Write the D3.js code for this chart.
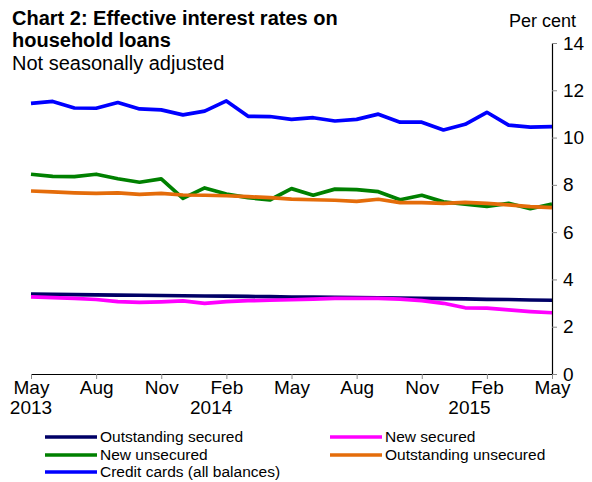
<!DOCTYPE html>
<html>
<head>
<meta charset="utf-8">
<script src="https://cdn.jsdelivr.net/npm/d3@7"></script>
<style>
  body { margin: 0; padding: 0; background: #fff; }
  svg text { font-family: "Liberation Sans", Arial, sans-serif; fill: #000; }
</style>
</head>
<body>
<div id="main"></div>
<script>
// month index 0 = May 2013 ... 24 = May 2015
const months = d3.range(25);
const tickMonths = [0, 3, 6, 9, 12, 15, 18, 21, 24];
const tickLabels = ['May', 'Aug', 'Nov', 'Feb', 'May', 'Aug', 'Nov', 'Feb', 'May'];
const yearLabels = [['2013', 0], ['2014', 8.3], ['2015', 20.2]];
const yTicks = [0, 2, 4, 6, 8, 10, 12, 14];

const outstandingSecured = [3.38, 3.37, 3.36, 3.35, 3.34, 3.33, 3.32, 3.31, 3.30, 3.29, 3.28, 3.27, 3.25,
    3.25, 3.24, 3.23, 3.22, 3.21, 3.20, 3.19, 3.18, 3.16, 3.15, 3.13, 3.12];
const newSecured = [3.26, 3.23, 3.20, 3.15, 3.06, 3.03, 3.05, 3.09, 2.99, 3.06, 3.10, 3.12, 3.14,
    3.17, 3.20, 3.20, 3.20, 3.17, 3.10, 2.99, 2.80, 2.79, 2.71, 2.64, 2.59];
const newUnsecured = [8.45, 8.36, 8.35, 8.45, 8.26, 8.11, 8.25, 7.43, 7.87, 7.61, 7.46, 7.36, 7.84,
    7.56, 7.82, 7.80, 7.71, 7.37, 7.56, 7.28, 7.18, 7.09, 7.22, 6.99, 7.19];
const outstandingUnsecured = [7.74, 7.70, 7.66, 7.64, 7.66, 7.60, 7.64, 7.57, 7.56, 7.54, 7.50, 7.46, 7.40,
    7.37, 7.35, 7.30, 7.39, 7.25, 7.25, 7.22, 7.26, 7.22, 7.15, 7.08, 7.04];
const creditCards = [11.45, 11.53, 11.25, 11.24, 11.48, 11.21, 11.17, 10.96, 11.12, 11.55, 10.90, 10.89, 10.77,
    10.84, 10.70, 10.77, 10.99, 10.65, 10.65, 10.32, 10.56, 11.07, 10.53, 10.44, 10.46];

const series = [
    { name: 'Outstanding secured', values: outstandingSecured, color: '#000066' },
    { name: 'New secured', values: newSecured, color: '#ff00ff' },
    { name: 'New unsecured', values: newUnsecured, color: '#008000' },
    { name: 'Outstanding unsecured', values: outstandingUnsecured, color: '#e46c0a' },
    { name: 'Credit cards (all balances)', values: creditCards, color: '#0000ff' }
];

const WIDTH = 592, HEIGHT = 482;
const LEFT = 31, RIGHT = 552, TOP = 43, BOTTOM = 374;

const svg = d3.select('#main').append('svg')
    .attr('width', WIDTH)
    .attr('height', HEIGHT);

const x = d3.scaleLinear().domain([0, 24]).range([LEFT, RIGHT]);
const y = d3.scaleLinear().domain([0, 14]).range([BOTTOM, TOP]);

// titles
svg.append('text').attr('x', 12).attr('y', 25)
    .style('font-size', '20px').style('font-weight', 'bold')
    .text('Chart 2: Effective interest rates on');
svg.append('text').attr('x', 12).attr('y', 47)
    .style('font-size', '20px').style('font-weight', 'bold')
    .text('household loans');
svg.append('text').attr('x', 12).attr('y', 70)
    .style('font-size', '20px')
    .text('Not seasonally adjusted');
svg.append('text').attr('x', 576).attr('y', 27)
    .attr('text-anchor', 'end')
    .style('font-size', '18px')
    .text('Per cent');

// lines
const line = d3.line()
    .x((d, i) => x(months[i]))
    .y(d => y(d));

svg.append('g').selectAll('path').data(series).enter().append('path')
    .attr('d', d => line(d.values))
    .attr('fill', 'none')
    .attr('stroke', d => d.color)
    .attr('stroke-width', 3.7)
    .attr('stroke-linejoin', 'round');

// axes
const axisX = d3.axisBottom(x)
    .tickValues(tickMonths)
    .tickFormat((d, i) => tickLabels[i])
    .tickSize(5)
    .tickSizeOuter(0)
    .tickPadding(2);
const gx = svg.append('g')
    .attr('transform', `translate(0, ${BOTTOM})`)
    .call(axisX);
gx.select('.domain').attr('stroke', '#000').attr('stroke-width', 1.2);
gx.selectAll('.tick line').attr('stroke', '#888');
gx.selectAll('.tick text').style('font-size', '19px').attr('font-family', null);

const axisY = d3.axisRight(y)
    .tickValues(yTicks)
    .tickSize(5)
    .tickSizeOuter(0)
    .tickPadding(6);
const gy = svg.append('g')
    .attr('transform', `translate(${RIGHT}, 0)`)
    .call(axisY);
gy.select('.domain').attr('stroke', '#000').attr('stroke-width', 1.2);
gy.selectAll('.tick line').attr('stroke', '#888');
gy.selectAll('.tick text').style('font-size', '19px').attr('font-family', null);

svg.append('g').selectAll('text').data(yearLabels).enter().append('text')
    .attr('x', d => x(d[1]))
    .attr('y', 414)
    .attr('text-anchor', 'middle')
    .style('font-size', '19px')
    .text(d => d[0]);

// legend
const legendPos = [[45, 437], [330, 437], [45, 455], [330, 455], [45, 472]];
const legendOrder = [0, 1, 2, 3, 4];
const legend = svg.append('g').selectAll('g').data(legendOrder).enter().append('g')
    .attr('transform', (d, i) => `translate(${legendPos[i][0]}, ${legendPos[i][1]})`);
legend.append('line')
    .attr('x1', 0).attr('x2', 52)
    .attr('y1', 0).attr('y2', 0)
    .attr('stroke', d => series[d].color)
    .attr('stroke-width', 3.5);
legend.append('text')
    .attr('x', 55).attr('y', 5)
    .style('font-size', '15.5px')
    .text(d => series[d].name);
</script>
</body>
</html>
